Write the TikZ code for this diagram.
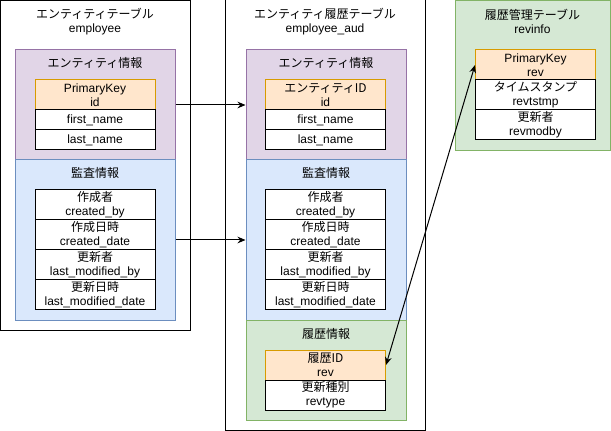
\documentclass[tikz,border=0pt]{standalone}
\usepackage{fontspec}
\setmainfont{Liberation Sans}
\newfontfamily\jp{Noto Sans CJK JP}
\usetikzlibrary{arrows.meta,positioning}
\definecolor{purf}{HTML}{E1D5E7}\definecolor{purd}{HTML}{9673A6}
\definecolor{bluf}{HTML}{DAE8FC}\definecolor{blud}{HTML}{6C8EBF}
\definecolor{grnf}{HTML}{D5E8D4}\definecolor{grnd}{HTML}{82B366}
\definecolor{orgf}{HTML}{FFE6CC}\definecolor{orgd}{HTML}{D79B00}
\tikzset{
	every node/.style={font=\fontsize{9}{10.5}\selectfont,align=center,inner sep=0pt},
	tbl/.style={draw,rectangle,fill=white,line width=0.75pt},
	grp/.style={draw,rectangle,line width=0.75pt,minimum width=120pt},
	purgrp/.style={grp,fill=purf,draw=purd,minimum height=82.5pt},
	blugrp/.style={grp,fill=bluf,draw=blud,minimum height=120pt},
	grngrp/.style={grp,fill=grnf,draw=grnd},
	fld/.style={draw,rectangle,fill=white,line width=0.75pt,minimum width=90pt,minimum height=22.5pt},
	fldlow/.style={fld,minimum height=15pt},
	key/.style={fld,fill=orgf,draw=orgd},
	conn/.style={line width=0.75pt,-{Stealth[length=6pt,width=5pt]}},
	biconn/.style={line width=0.75pt,{Stealth[length=6pt,width=5pt]}-{Stealth[length=6pt,width=5pt]}}
}
\begin{document}
\begin{tikzpicture}[x=0.75pt,y=-0.75pt]
	\useasboundingbox (0,0) rectangle (611,431);
	% entity table
	\node[tbl,minimum width=142.5pt,minimum height=247.5pt] (ent) at (95.5,165.5) {};
	\node (enttitle) at (95,21.5) {{\jp エンティティテーブル}\\employee};
	\node[purgrp] (entinfo) at (95,105) {};
	\node (entinfolbl) at (95,63) {\jp エンティティ情報};
	\node[key] (entid) at (95,95) {PrimaryKey\\id};
	\node[fldlow] (entfirst) at (95,120) {first\_name};
	\node[fldlow] (entlast) at (95,140) {last\_name};
	\node[blugrp] (entaudit) at (95,240) {};
	\node (entauditlbl) at (95,173) {\jp 監査情報};
	\node[fld] (entcby) at (95,205) {{\jp 作成者}\\created\_by};
	\node[fld] (entcdate) at (95,235) {{\jp 作成日時}\\created\_date};
	\node[fld] (entmby) at (95,265) {{\jp 更新者}\\last\_modified\_by};
	\node[fld] (entmdate) at (95,295) {{\jp 更新日時}\\last\_modified\_date};

	% entity history table
	\node[tbl,minimum width=150pt,minimum height=322.5pt] (aud) at (325,215) {};
	\node (audtitle) at (325,21.5) {{\jp エンティティ履歴テーブル}\\employee\_aud};
	\node[purgrp] (audinfo) at (326,105) {};
	\node (audinfolbl) at (326,63) {\jp エンティティ情報};
	\node[key] (audid) at (325.5,95) {{\jp エンティティID}\\id};
	\node[fldlow] (audfirst) at (325.5,120) {first\_name};
	\node[fldlow] (audlast) at (325.5,140) {last\_name};
	\node[blugrp] (audaudit) at (326,240) {};
	\node (audauditlbl) at (326,173) {\jp 監査情報};
	\node[fld] (audcby) at (325.5,205) {{\jp 作成者}\\created\_by};
	\node[fld] (audcdate) at (325.5,235) {{\jp 作成日時}\\created\_date};
	\node[fld] (audmby) at (325.5,265) {{\jp 更新者}\\last\_modified\_by};
	\node[fld] (audmdate) at (325.5,295) {{\jp 更新日時}\\last\_modified\_date};
	\node[grngrp,minimum height=75pt] (audhist) at (326,370) {};
	\node (audhistlbl) at (326,334) {\jp 履歴情報};
	\node[key] (audrev) at (325.5,365) {{\jp 履歴ID}\\rev};
	\node[fld] (audrevtype) at (325.5,395) {{\jp 更新種別}\\revtype};

	% revision info table
	\node[grngrp,minimum width=116.25pt,minimum height=112pt] (rev) at (532.5,75.5) {};
	\node (revtitle) at (532.5,21.5) {{\jp 履歴管理テーブル}\\revinfo};
	\node[key] (revid) at (535.5,65) {PrimaryKey\\rev};
	\node[fld] (revtstmp) at (535.5,95) {{\jp タイムスタンプ}\\revtstmp};
	\node[fld] (revmodby) at (535.5,125) {{\jp 更新者}\\revmodby};

	\draw[conn] (entinfo) -- (audinfo);
	\draw[conn] (entaudit) -- (audaudit);
	\draw[biconn] (audrev.east) -- (revid.west);
\end{tikzpicture}
\end{document}
